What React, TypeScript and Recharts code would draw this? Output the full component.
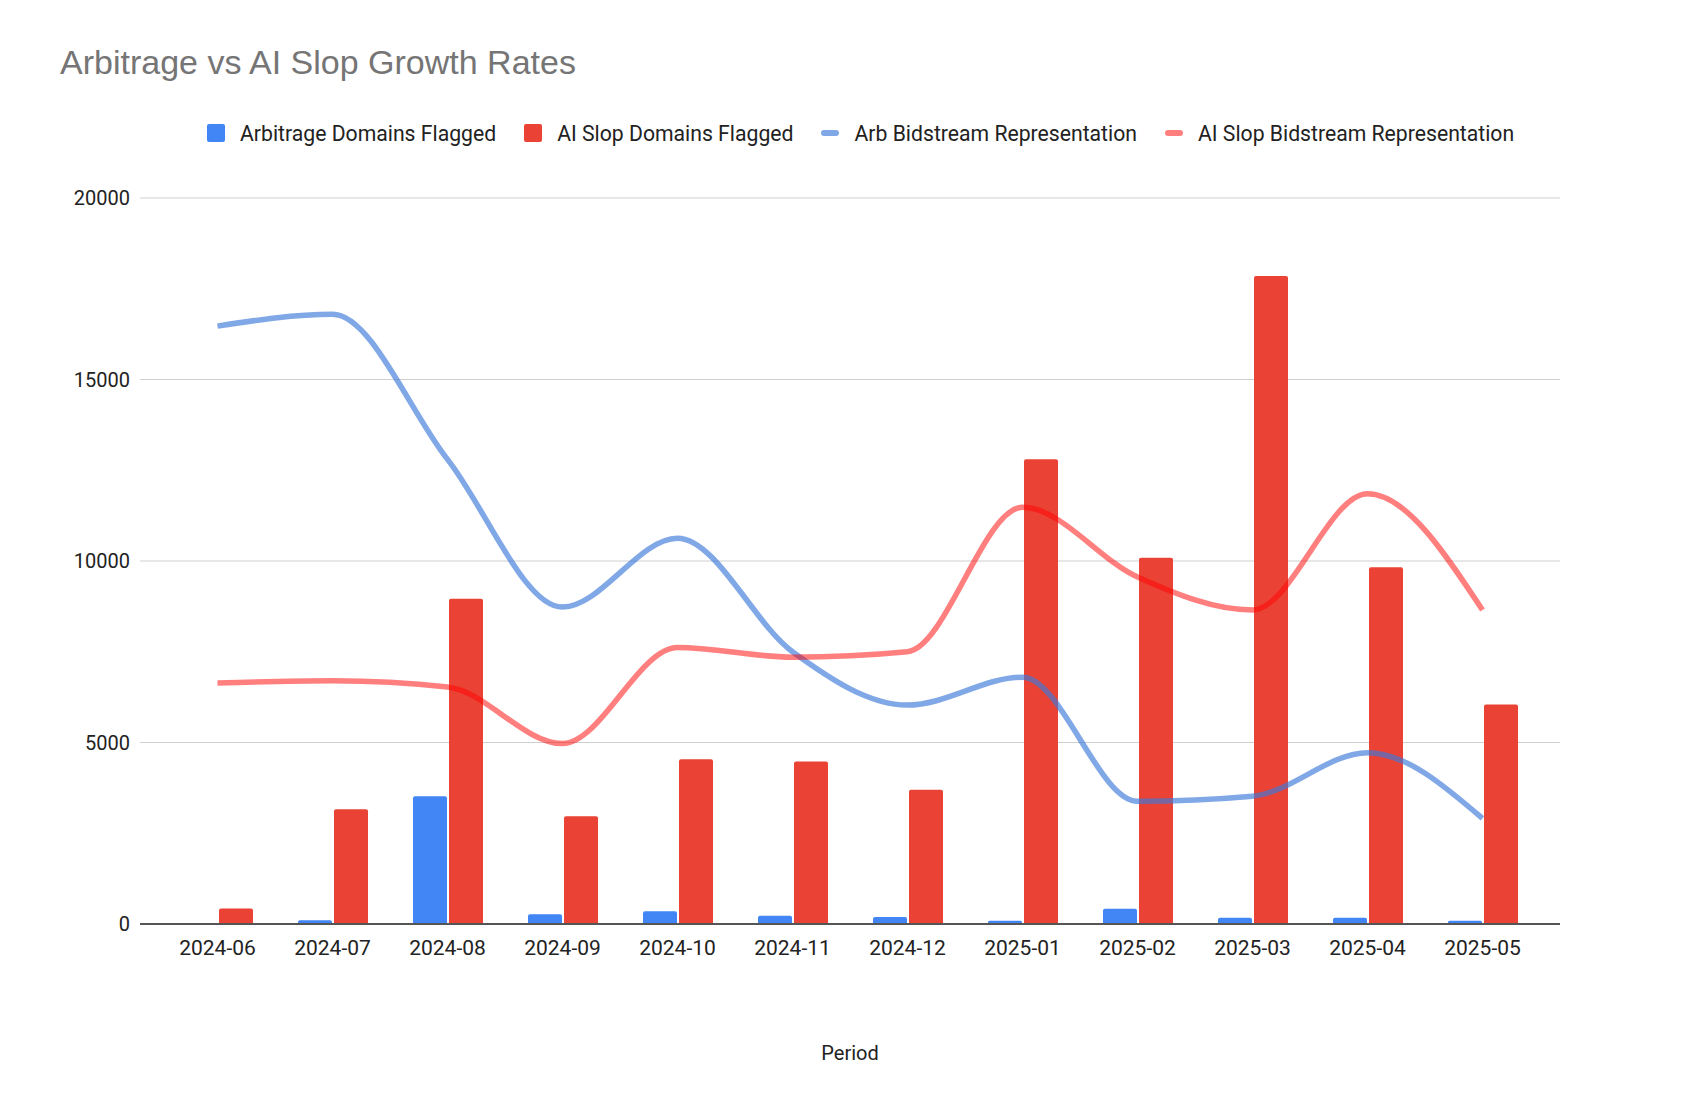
import React from "react";
import {
  Bar,
  CartesianGrid,
  ComposedChart,
  Line,
  XAxis,
  YAxis,
} from "recharts";

const periods = [
  "2024-06", "2024-07", "2024-08", "2024-09", "2024-10", "2024-11",
  "2024-12", "2025-01", "2025-02", "2025-03", "2025-04", "2025-05",
];
const arbFlagged = [30, 100, 3520, 270, 350, 230, 190, 90, 420, 170, 170, 90];
const slopFlagged = [430, 3160, 8960, 2970, 4540, 4480, 3700, 12800, 10090, 17850, 9830, 6050];
const arbBidstream = [16470, 16800, 12800, 8730, 10630, 7500, 6030, 6800, 3380, 3520, 4720, 2910];
const slopBidstream = [6640, 6700, 6530, 4970, 7620, 7350, 7500, 11480, 9560, 8650, 11850, 8650];
const yTicks = [0, 5000, 10000, 15000, 20000];

const data = periods.map((period, i) => ({
  period,
  arbFlagged: arbFlagged[i],
  slopFlagged: slopFlagged[i],
  arbBidstream: arbBidstream[i],
  slopBidstream: slopBidstream[i],
}));

const legendItems = [
  { name: "Arbitrage Domains Flagged", color: "#4285F4", kind: "bar" },
  { name: "AI Slop Domains Flagged", color: "#EA4335", kind: "bar" },
  { name: "Arb Bidstream Representation", color: "rgba(60,120,216,0.65)", kind: "line" },
  { name: "AI Slop Bidstream Representation", color: "rgba(255,0,0,0.5)", kind: "line" },
];

const font = "Roboto, 'Noto Sans', sans-serif";

export default function App() {
  return (
    <div
      style={{
        position: "absolute",
        top: 0,
        left: 0,
        width: 1685,
        height: 1117,
        background: "#fff",
        fontFamily: font,
      }}
    >
      <div
        style={{
          position: "absolute",
          left: 60,
          top: 45,
          fontFamily: "'Liberation Sans', Arial, sans-serif",
          fontSize: 34,
          lineHeight: "34px",
          color: "#757575",
          whiteSpace: "nowrap",
        }}
      >
        Arbitrage vs AI Slop Growth Rates
      </div>

      <div
        style={{
          position: "absolute",
          left: 207,
          top: 118,
          height: 30,
          display: "flex",
          alignItems: "center",
          gap: 28,
          fontSize: 21.2,
          color: "#222",
          whiteSpace: "nowrap",
        }}
      >
        {legendItems.map((item) => (
          <div key={item.name} style={{ display: "flex", alignItems: "center", gap: 15 }}>
            <span
              style={{
                display: "inline-block",
                width: 18,
                height: item.kind === "bar" ? 18 : 6,
                borderRadius: item.kind === "bar" ? 2 : 3,
                background: item.color,
              }}
            />
            <span>{item.name}</span>
          </div>
        ))}
      </div>

      <ComposedChart
        width={1685}
        height={1117}
        data={data}
        margin={{ top: 198, right: 125, bottom: 0, left: 0 }}
        barSize={34}
        barGap={2}
      >
        <CartesianGrid vertical={false} stroke="#cfcfcf" strokeWidth={1.2} />
        <XAxis
          dataKey="period"
          height={193}
          padding={{ left: 20, right: 20 }}
          tickLine={false}
          tickSize={6}
          tickMargin={10}
          axisLine={{ stroke: "#555", strokeWidth: 2 }}
          tick={{ fontSize: 21, fill: "#222", fontFamily: font }}
          interval={0}
          label={{
            value: "Period",
            position: "insideTop",
            offset: 122,
            fontSize: 20,
            fill: "#222",
            fontFamily: font,
          }}
        />
        <YAxis
          width={140}
          domain={[0, 20000]}
          ticks={yTicks}
          tickLine={false}
          axisLine={false}
          tickSize={6}
          tickMargin={4}
          tick={{ fontSize: 20, fill: "#222", fontFamily: font }}
        />
        <Bar dataKey="arbFlagged" fill="#4285F4" radius={[2, 2, 0, 0]} isAnimationActive={false} />
        <Bar dataKey="slopFlagged" fill="#EA4335" radius={[2, 2, 0, 0]} isAnimationActive={false} />
        <Line
          type="monotone"
          dataKey="arbBidstream"
          stroke="#3C78D8"
          strokeOpacity={0.65}
          strokeWidth={5.5}
          dot={false}
          activeDot={false}
          isAnimationActive={false}
        />
        <Line
          type="monotone"
          dataKey="slopBidstream"
          stroke="#FF0000"
          strokeOpacity={0.5}
          strokeWidth={5.5}
          dot={false}
          activeDot={false}
          isAnimationActive={false}
        />
      </ComposedChart>
    </div>
  );
}
